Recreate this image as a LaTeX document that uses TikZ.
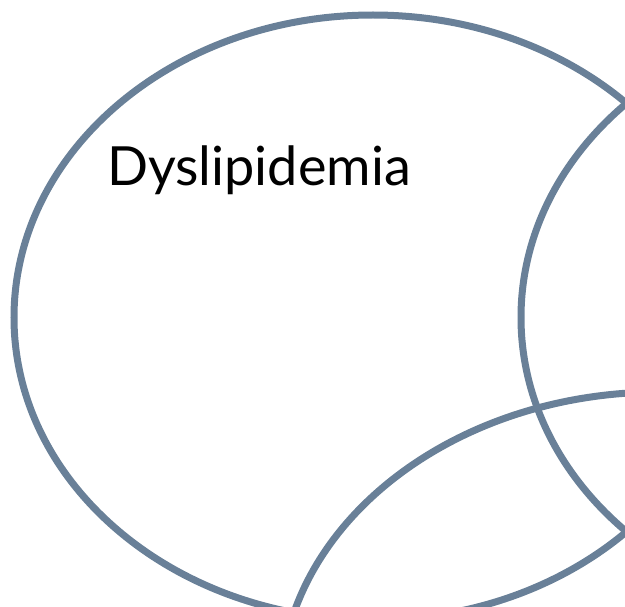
\documentclass[tikz,border=0pt]{standalone}
\usepackage{fontspec}
\newfontfamily\latofont{Lato}
\definecolor{setline}{RGB}{105,128,152}
\begin{document}
\begin{tikzpicture}[x=1pt,y=-1pt,
  setedge/.style={draw=setline,line width=7pt},
  setlabel/.style={inner sep=0pt,anchor=base west,font=\latofont\fontsize{54}{64}\selectfont}]
\useasboundingbox (0,0) rectangle (625,607);
\clip (0,0) rectangle (625,607);
\path[setedge] (373,317.5) ellipse [x radius=359pt, y radius=302.5pt];
\path[setedge] (880,317.5) ellipse [x radius=359pt, y radius=302.5pt];
\path[setedge] (660,694) ellipse [x radius=380pt, y radius=302pt];
\node[setlabel] (dys) at (107,186) {Dyslipidemia};
\end{tikzpicture}
\end{document}
